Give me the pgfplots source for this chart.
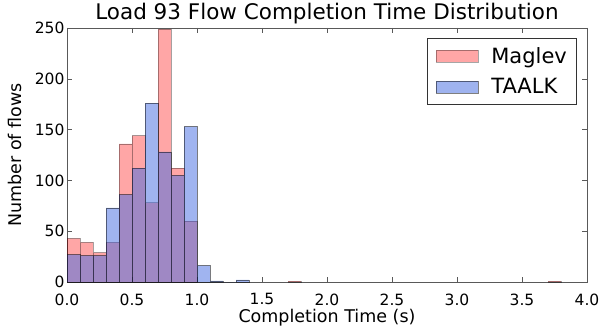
\documentclass[border=0pt]{standalone}
\usepackage{pgfplots}
\pgfplotsset{compat=1.18}
\usetikzlibrary{calc}
\usepackage{fontspec}
\setmainfont{DejaVu Sans}
\definecolor{mred}{RGB}{255,0,0}
\definecolor{mblue}{RGB}{65,105,225}
\begin{document}
\begin{tikzpicture}
\begin{axis}[
  scale only axis, width=520pt, height=254pt,
  xmin=0, xmax=4, ymin=0, ymax=250,
  xtick={0,0.5,...,4}, ytick={0,50,...,250},
  xticklabel style={yshift=-8pt, /pgf/number format/.cd,fixed,fixed zerofill,precision=1},
  /pgf/number format/assume math mode=true,
  tick align=inside, tick pos=both,
  major tick length=5pt,
  tick style={gray!70!black, line width=0.5pt},
  ticklabel style={font=\fontsize{15.5}{17}\selectfont},
  yticklabel style={xshift=1pt},
  axis line style={gray!70!black, line width=0.8pt},
  title={Load 93 Flow Completion Time Distribution},
  title style={font=\fontsize{21.5}{24}\selectfont, yshift=-6pt},
  xlabel={Completion Time (s)}, ylabel={Number of flows},
  label style={font=\fontsize{17.5}{20}\selectfont},
  xlabel style={yshift=3pt}, ylabel style={yshift=6pt},
  legend style={at={(0.979,0.961)}, anchor=north east, font=\fontsize{21}{24}\selectfont,
    draw=black!80, line width=0.5pt, inner xsep=8pt, inner ysep=7pt, row sep=10pt,
    column sep=12pt, nodes={inner xsep=1pt}},
  legend cell align=left,
  legend image code/.code={\draw[#1] (0pt,-6pt) rectangle (42pt,6pt);},
]
\addplot[ybar interval, fill=mred, fill opacity=0.35, draw=black, draw opacity=0.35, line width=0.6pt] coordinates {
(0.0,43) (0.1,39) (0.2,29) (0.3,39) (0.4,136) (0.5,144) (0.6,78) (0.7,249) (0.8,112) (0.9,60) (1.0,0)
};
\addlegendentry{Maglev}
\addplot[ybar interval, fill=mblue, fill opacity=0.5, draw=black, draw opacity=0.5, line width=0.6pt] coordinates {
(0.0,27) (0.1,26) (0.2,26) (0.3,73) (0.4,86) (0.5,112) (0.6,176) (0.7,128) (0.8,105) (0.9,153) (1.0,16) (1.1,1) (1.2,0) (1.3,2) (1.4,0)
};
\addlegendentry{TAALK}
\addplot[ybar interval, fill=mred, fill opacity=0.35, draw=black, draw opacity=0.35, line width=0.6pt, forget plot] coordinates {
(1.7,1) (1.8,1)
};
\addplot[ybar interval, fill=mred, fill opacity=0.35, draw=black, draw opacity=0.35, line width=0.6pt, forget plot] coordinates {
(3.7,1) (3.8,1)
};
\end{axis}
\pgfresetboundingbox
\path ($(current axis.south west)+(-67pt,-47pt)$) rectangle ($(current axis.north east)+(18pt,28pt)$);
\end{tikzpicture}
\end{document}
